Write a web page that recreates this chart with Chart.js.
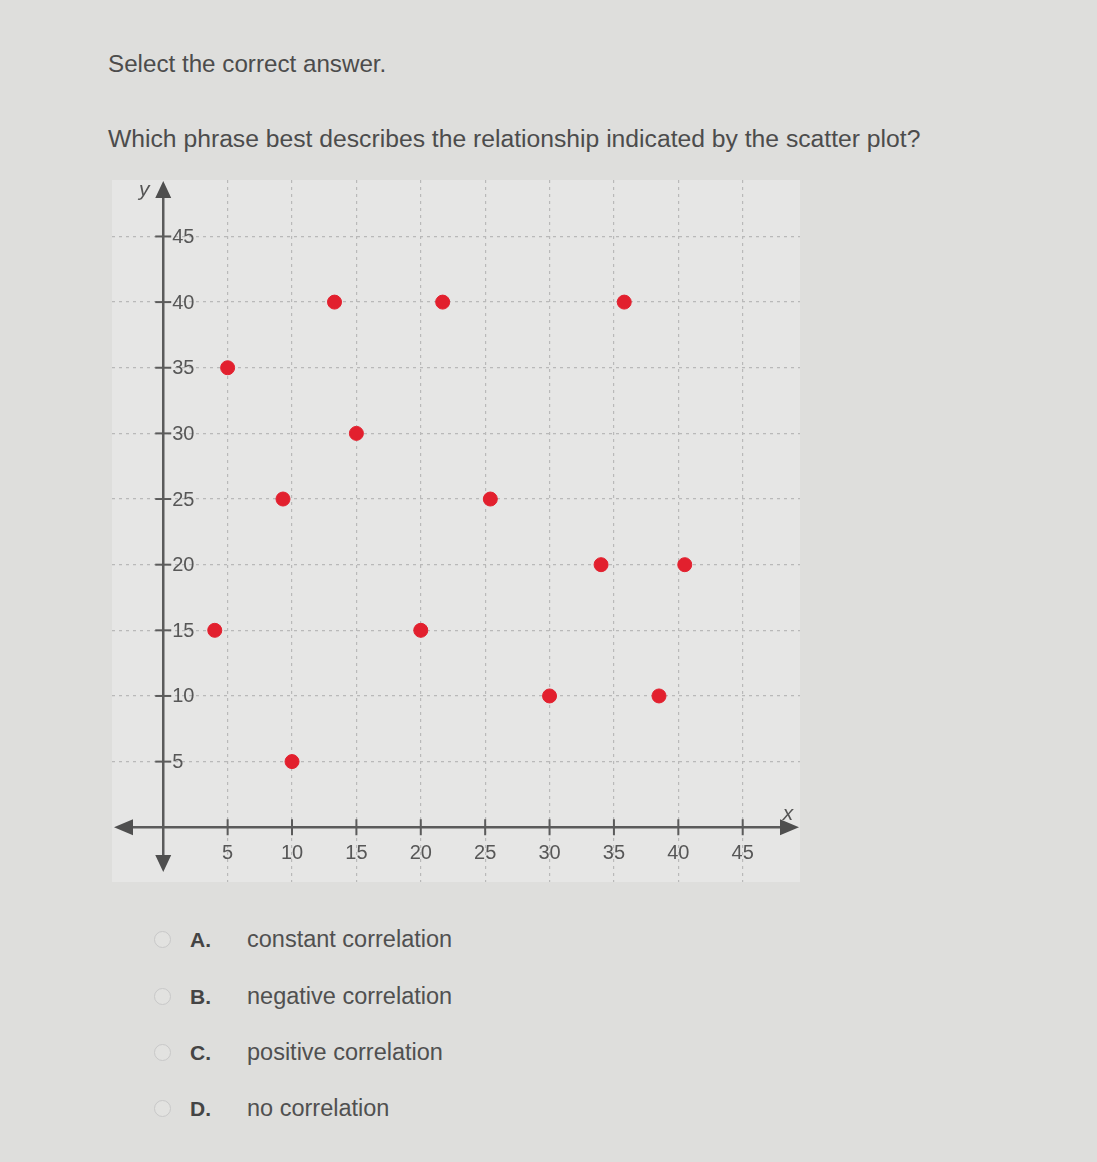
<!DOCTYPE html>
<html>
<head>
<meta charset="utf-8">
<script src="https://cdn.jsdelivr.net/npm/chart.js@4.4.1/dist/chart.umd.min.js"></script>
<style>
  body { margin:0; width:1097px; height:1162px; background:#dededc; font-family:"Liberation Sans", Arial, sans-serif; color:#4c4c4c; position:relative; overflow:hidden; }
  .t { position:absolute; white-space:nowrap; }
  #box { position:absolute; left:112px; top:180px; width:688px; height:702px; background:#e6e6e5; }
  .opt { position:absolute; left:154px; font-size:23.5px; color:#505050; }
  .opt .r { display:inline-block; width:15px; height:15px; border:1px solid #c8c8c8; border-radius:50%; vertical-align:-1px; margin-right:19px; background:#e2e2e0; }
  .opt b { display:inline-block; width:57px; color:#444; font-size:21px; }
</style>
</head>
<body>
<div class="t" style="left:108px;top:50px;font-size:24.2px;">Select the correct answer.</div>
<div class="t" style="left:108px;top:125px;font-size:24.7px;">Which phrase best describes the relationship indicated by the scatter plot?</div>
<div id="box"><canvas id="myChart1" width="688" height="702"></canvas></div>
<div class="opt" style="top:926px;"><span class="r"></span><b>A.</b>constant correlation</div>
<div class="opt" style="top:983px;"><span class="r"></span><b>B.</b>negative correlation</div>
<div class="opt" style="top:1039px;"><span class="r"></span><b>C.</b>positive correlation</div>
<div class="opt" style="top:1095px;"><span class="r"></span><b>D.</b>no correlation</div>
<script>
  const xValues = [4, 5, 9.3, 10, 13.3, 15, 20, 21.7, 25.4, 30, 34, 35.8, 38.5, 40.5];
  const yValues = [15, 35, 25, 5, 40, 30, 15, 40, 25, 10, 20, 40, 10, 20];
  const xTicks = [5, 10, 15, 20, 25, 30, 35, 40, 45];
  const yTicks = [5, 10, 15, 20, 25, 30, 35, 40, 45];

  const points = xValues.map((x, i) => ({ x: x, y: yValues[i] }));

  function gridColor(c) {
    const v = c.tick ? c.tick.value : null;
    if (v === null || v === 0 || Math.abs(v % 5) > 0.001) return 'rgba(0,0,0,0)';
    return '#b9b9b9';
  }

  const axesPlugin = {
    id: 'axesPlugin',
    afterDatasetsDraw(chart) {
      const c = chart.ctx;
      const xs = chart.scales.x, ys = chart.scales.y;
      const x0 = xs.getPixelForValue(0), y0 = ys.getPixelForValue(0);
      const a = chart.chartArea;
      c.save();
      c.strokeStyle = '#5b5b5b';
      c.fillStyle = '#4f4f4f';
      c.lineWidth = 2.5;
      // axes
      c.beginPath();
      c.moveTo(x0, a.top + 12); c.lineTo(x0, a.bottom - 25);
      c.moveTo(a.left + 14, y0); c.lineTo(a.right - 14, y0);
      c.stroke();
      // arrows
      c.beginPath();
      c.moveTo(x0, a.top + 1); c.lineTo(x0 - 8, a.top + 18); c.lineTo(x0 + 8, a.top + 18); c.closePath();
      c.moveTo(x0, a.bottom - 10); c.lineTo(x0 - 8, a.bottom - 27); c.lineTo(x0 + 8, a.bottom - 27); c.closePath();
      c.moveTo(a.left + 2, y0); c.lineTo(a.left + 21, y0 - 8); c.lineTo(a.left + 21, y0 + 8); c.closePath();
      c.moveTo(a.right - 1, y0); c.lineTo(a.right - 20, y0 - 8); c.lineTo(a.right - 20, y0 + 8); c.closePath();
      c.fill();
      // ticks and labels
      c.lineWidth = 2;
      c.font = '20px "Liberation Sans", Arial, sans-serif';
      c.fillStyle = '#575757';
      c.textAlign = 'center'; c.textBaseline = 'top';
      xTicks.forEach(t => {
        const px = xs.getPixelForValue(t);
        c.beginPath(); c.moveTo(px, y0 - 8); c.lineTo(px, y0 + 8); c.stroke();
        c.fillText(String(t), px, y0 + 16);
      });
      c.textAlign = 'left'; c.textBaseline = 'middle';
      yTicks.forEach(t => {
        const py = ys.getPixelForValue(t);
        c.beginPath(); c.moveTo(x0 - 8, py); c.lineTo(x0 + 8, py); c.stroke();
        c.fillText(String(t), x0 + 9, py + 1);
      });
      c.font = 'italic 21px "Liberation Sans", Arial, sans-serif';
      c.fillStyle = '#555';
      c.textAlign = 'center';
      c.fillText('y', x0 - 19, a.top + 10);
      c.fillText('x', a.right - 12, y0 - 13);
      c.restore();
    }
  };

  const ctx = document.getElementById('myChart1').getContext('2d');
  const myChart = new Chart(ctx, {
    type: 'scatter',
    data: {
      datasets: [
        {
          label: 'points',
          data: points,
          backgroundColor: '#e2202e',
          borderColor: '#e2202e',
          pointRadius: 7,
          pointHoverRadius: 7
        }
      ]
    },
    options: {
      responsive: false,
      animation: false,
      layout: { padding: 0, autoPadding: false },
      plugins: { legend: { display: false }, tooltip: { enabled: false } },
      scales: {
        x: {
          type: 'linear', min: -3.98, max: 49.45,
          ticks: { display: false, stepSize: 5 },
          grid: { color: gridColor, lineWidth: 1.2, drawTicks: false },
          border: { display: false, dash: [3, 4] }
        },
        y: {
          type: 'linear', min: -4.17, max: 49.3,
          ticks: { display: false, stepSize: 5 },
          grid: { color: gridColor, lineWidth: 1.2, drawTicks: false },
          border: { display: false, dash: [3, 4] }
        }
      }
    },
    plugins: [axesPlugin]
  });
</script>
</body>
</html>
